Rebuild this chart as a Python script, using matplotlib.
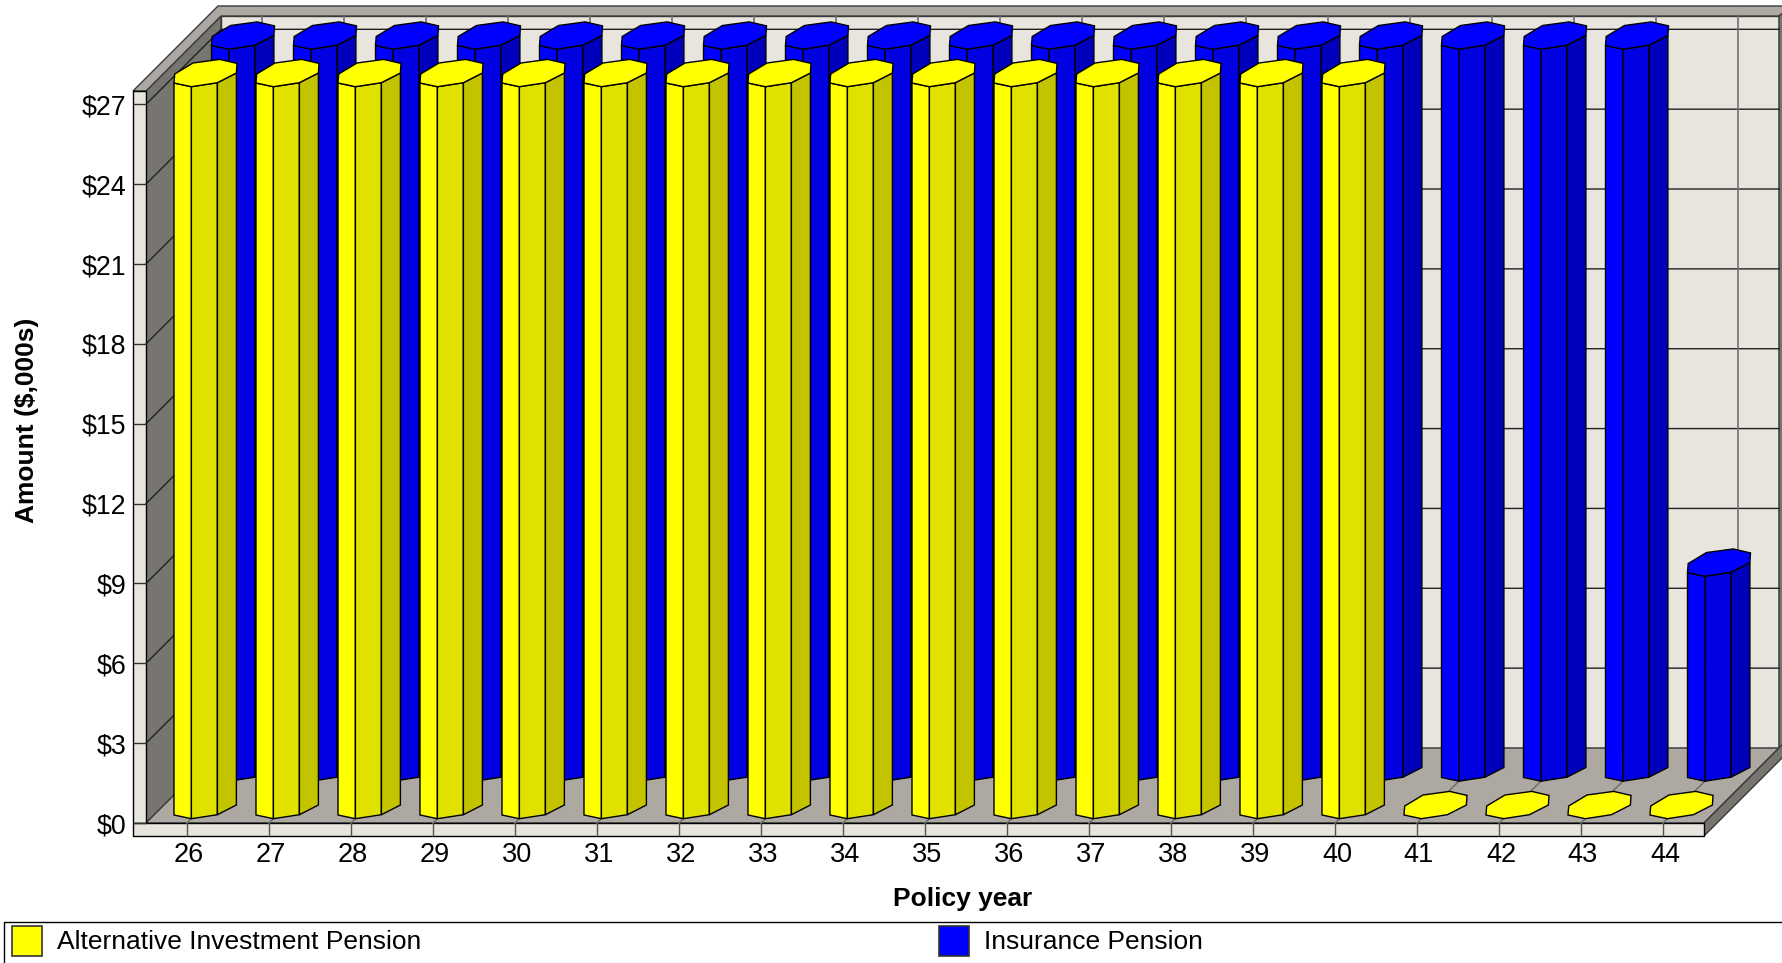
import matplotlib
matplotlib.use("Agg")
import matplotlib.pyplot as plt
from matplotlib.patches import Polygon, Rectangle
from matplotlib.transforms import Affine2D

plt.rcParams['font.family'] = ['Liberation Sans', 'DejaVu Sans']

# ---- data ----
years = [26, 27, 28, 29, 30, 31, 32, 33, 34, 35, 36, 37, 38, 39, 40, 41, 42, 43, 44]
alt_pension = [27.5] * 15 + [0, 0, 0, 0]
ins_pension = [27.5] * 18 + [7.7]
y_ticks = [0, 3, 6, 9, 12, 15, 18, 21, 24, 27]
y_labels = ['$0', '$3', '$6', '$9', '$12', '$15', '$18', '$21', '$24', '$27']
series_names = ['Alternative Investment Pension', 'Insurance Pension']
y_max = 27.5

# ---- styles / geometry in pixels ----
W, H = 1782, 963
L, R, B, T = 146, 1704, 823, 91
DEPTH = 75
WALL = '#E8E4DE'; FLOOR = '#ADA9A2'; DARK = '#777570'; EDGE = '#3A3A3A'
YEL = ('#FFFF00', '#E1E100', '#C3C300')
BLU = ('#0000FF', '#0000E1', '#0000BC')
FS = 19

fig = plt.figure(figsize=(W / 100, H / 100), dpi=100, facecolor='white')

bg = fig.add_axes([0, 0, 1, 1], zorder=0)
bg.set_xlim(0, W); bg.set_ylim(H, 0); bg.axis('off')

def poly(pts, fc, ec=EDGE, lw=1.0):
    bg.add_patch(Polygon(pts, closed=True, facecolor=fc, edgecolor=ec, linewidth=lw, clip_on=False))

# frame: back wall, left wall, floor, ledges
poly([(L + DEPTH, T - DEPTH), (R + DEPTH, T - DEPTH), (R + DEPTH, B - DEPTH), (L + DEPTH, B - DEPTH)], WALL)
poly([(L, T), (L + DEPTH, T - DEPTH), (L + DEPTH, B - DEPTH), (L, B)], DARK)
poly([(L, B), (L + DEPTH, B - DEPTH), (R + DEPTH, B - DEPTH), (R, B)], FLOOR)
poly([(133, T), (218, 6), (1792, 6), (1779, 16), (L + DEPTH, 16), (L, T)], FLOOR)
poly([(1779, 16), (1792, 6), (1792, 738), (1779, 748)], DARK)
poly([(R, B), (1792, B - 88), (1792, 748), (R, 836)], DARK)
poly([(133, T), (L, T), (L, B), (133, B)], WALL, ec='black')
poly([(133, B), (R, B), (R, 836), (133, 836)], WALL, ec='black')

# legend
bg.add_patch(Rectangle((3.5, 922), 1800, 60, facecolor='white', edgecolor='black', linewidth=1.0, clip_on=False))
for x0, fc, name, tx in [(11.5, YEL[0], series_names[0], 57), (939, BLU[0], series_names[1], 984)]:
    bg.add_patch(Rectangle((x0, 926), 30, 30, facecolor=fc, edgecolor='#333333', linewidth=1.2))
    bg.text(tx, 942, name, fontsize=FS, va='center', ha='left', color='black')

# main axes on the front plane
ax = fig.add_axes([L / W, 1 - B / H, (R - L) / W, (B - T) / H], zorder=1)
ax.patch.set_visible(False)
ax.set_xlim(-0.5, len(years) - 0.5)
ax.set_ylim(0, y_max)
for s in ax.spines.values():
    s.set_visible(False)
ux = (R - L) / len(years)   # px per category
uy = (B - T) / y_max        # px per value unit

ax.set_xticks(range(len(years)))
ax.set_xticklabels([str(y) for y in years], fontsize=FS + 0.5)
ax.set_yticks(y_ticks)
ax.set_yticklabels(y_labels, fontsize=FS + 0.3)
ax.tick_params(axis='x', length=9.4, width=1.0, color='#555555', pad=4.3)
ax.tick_params(axis='y', length=9.4, width=1.0, color='#333333', pad=5)
for lab in ax.get_xticklabels():
    lab.set_transform(lab.get_transform() + Affine2D().translate(2, 0))

# grid: walls and floor, offset into the depth of the box
dx, dy = DEPTH / ux, DEPTH / uy
for v in y_ticks[1:]:
    ax.plot([-0.5, -0.5 + dx, len(years) - 0.5 + dx], [v, v + dy, v + dy], color='#222222', lw=1.0, clip_on=False, zorder=1)
for i in range(len(years)):
    ax.plot([i, i + dx, i + dx], [0, dy, y_max + dy], color='#707070', lw=1.2, clip_on=False, zorder=1)

# octagonal columns: px offsets of the outline relative to the tick on the floor
OCT = [(-13, -8), (4.4, -4.3), (30.4, -8.3), (49.4, -18), (50, -27.6), (32.7, -31.6), (6, -28), (-12.3, -17)]
ROW = 37.5

def column(i, v, shift, colours, z):
    ox = [i + (p[0] + shift) / ux for p in OCT]
    base = [(-p[1] + shift) / uy for p in OCT]
    top = [b + v for b in base]
    if v > 0:
        for k, c in zip((0, 1, 2), colours):
            ax.fill([ox[k], ox[k + 1], ox[k + 1], ox[k]], [base[k], base[k + 1], top[k + 1], top[k]],
                    facecolor=c, edgecolor='black', linewidth=1.0, clip_on=False, zorder=z)
    ax.fill(ox, top, facecolor=colours[0], edgecolor='black', linewidth=1.0, clip_on=False, zorder=z + 0.1)

for i, v in enumerate(ins_pension):
    column(i, v, ROW, BLU, 2 + i * 0.01)
for i, v in enumerate(alt_pension):
    column(i, v, 0, YEL, 3 + i * 0.01)

bg.text(27, 420, 'Amount ($,000s)', rotation=90, fontsize=FS, fontweight='bold', ha='center', va='center')
bg.text(962.5, 899, 'Policy year', fontsize=FS, fontweight='bold', ha='center', va='center')

fig.savefig('out.png', dpi=100)
